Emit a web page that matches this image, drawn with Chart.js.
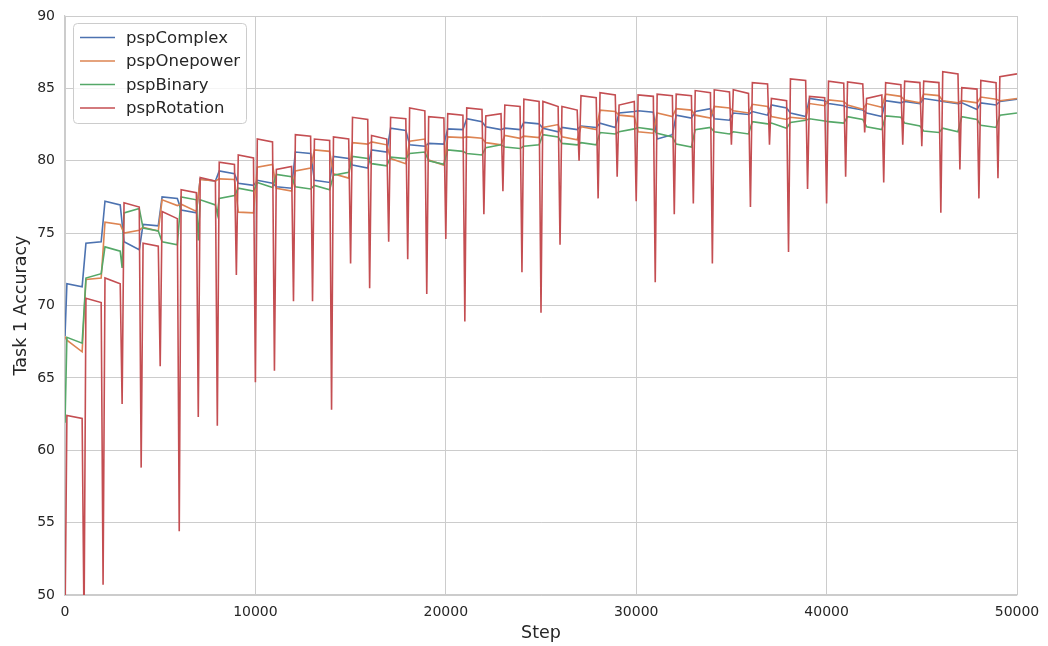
<!DOCTYPE html>
<html>
<head>
<meta charset="utf-8">
<script src="https://cdn.jsdelivr.net/npm/chart.js@4.4.1/dist/chart.umd.min.js"></script>
<style>
  html, body { margin: 0; padding: 0; background: #ffffff; }
  #wrap { width: 1048px; height: 646px; position: relative; }
</style>
</head>
<body>
<div id="wrap"><canvas id="chart"></canvas></div>
<script>
// Each task lasts 1000 steps; 50 tasks over 50000 steps.
const TASK_STEPS = 1000;
const TASK_COUNT = 50;

const seriesNames = ['pspComplex', 'pspOnepower', 'pspBinary', 'pspRotation'];
const seriesColors = ['#4c72b0', '#dd8452', '#55a868', '#c44e52'];

// Accuracy at the start and end of every task, plus the value logged right at a task switch.
const complexStart = [71.5, 74.3, 77.2, 74.4, 75.6, 77.5, 76.6, 78.75, 79.3, 78.45,
  78.65, 78.2, 80.6, 78.65, 80.3, 79.7, 80.75, 82.25, 81.1, 81.2,
  82.2, 82.9, 82.35, 82.25, 82.65, 82.25, 82.3, 82.4, 82.6, 83.3,
  83.45, 81.5, 83.15, 83.4, 82.9, 83.3, 83.4, 83.85, 83.3, 84.3,
  83.95, 83.7, 83.3, 84.15, 84.1, 84.3, 84.1, 84.0, 84.0, 84.1];
const complexEnd = [71.3, 74.4, 76.95, 73.85, 75.5, 77.4, 76.4, 78.6, 79.1, 78.3,
  78.45, 78.1, 80.5, 78.5, 80.15, 79.5, 80.6, 82.1, 81.0, 81.15,
  82.15, 82.7, 82.15, 82.15, 82.55, 82.0, 82.15, 82.3, 82.3, 83.4,
  83.35, 81.8, 82.95, 83.6, 82.8, 83.2, 83.15, 83.65, 83.05, 84.15,
  83.8, 83.5, 83.05, 84.0, 83.95, 84.15, 83.95, 83.55, 83.85, 84.25];
const complexSwitch = { 0: 67.9 };

const onepowerStart = [67.6, 71.8, 75.75, 75.0, 75.4, 77.3, 77.0, 78.7, 78.75, 76.45,
  79.55, 78.1, 79.3, 80.75, 79.1, 81.25, 81.3, 80.15, 81.35, 80.05,
  81.65, 81.65, 81.25, 81.75, 81.7, 82.3, 81.65, 82.35, 83.5, 83.15,
  82.0, 83.3, 83.6, 83.15, 83.75, 83.45, 83.9, 83.05, 83.0, 83.95,
  84.2, 83.85, 83.95, 84.6, 84.2, 84.6, 84.15, 84.15, 84.4, 84.15];
const onepowerEnd = [66.8, 71.9, 75.6, 75.2, 75.15, 76.9, 76.5, 78.6, 78.7, 76.4,
  79.75, 77.9, 79.5, 80.65, 78.8, 81.15, 81.1, 79.8, 81.5, 79.7,
  81.6, 81.55, 81.1, 81.55, 81.6, 82.5, 81.45, 82.15, 83.4, 83.05,
  81.9, 83.05, 83.5, 82.95, 83.65, 83.3, 83.75, 82.85, 82.9, 83.8,
  84.1, 83.55, 83.7, 84.45, 84.0, 84.5, 84.0, 84.0, 84.25, 84.3];
const onepowerSwitch = { 0: 67.85 };

const binaryStart = [67.8, 71.9, 74.05, 76.4, 75.35, 74.4, 77.5, 77.3, 77.4, 78.1,
  78.5, 79.05, 78.2, 78.3, 79.0, 80.3, 79.8, 80.25, 80.5, 80.0,
  80.75, 80.5, 80.9, 80.95, 81.0, 81.8, 81.2, 81.25, 81.95, 82.0,
  82.3, 81.9, 81.15, 82.15, 82.0, 82.0, 82.7, 82.6, 82.65, 82.9,
  82.7, 83.05, 82.35, 83.1, 82.6, 82.05, 82.25, 83.05, 82.45, 83.15];
const binaryEnd = [67.4, 72.2, 73.75, 76.7, 75.15, 74.2, 77.3, 76.95, 77.6, 77.9,
  78.15, 78.9, 78.05, 78.0, 79.2, 80.15, 79.65, 80.15, 80.6, 79.75,
  80.65, 80.4, 81.1, 80.85, 81.1, 81.65, 81.1, 81.1, 81.85, 82.2,
  82.15, 81.65, 80.95, 82.3, 81.85, 81.85, 82.55, 82.25, 82.8, 82.75,
  82.6, 82.85, 82.15, 83.0, 82.4, 81.95, 82.0, 82.85, 82.3, 83.3];
const binarySwitch = { 0: 61.9, 3: 72.6, 7: 74.5, 8: 76.3 };

const rotationStart = [62.4, 70.5, 71.9, 77.1, 74.3, 76.5, 78.0, 78.85, 79.9, 80.4,
  81.5, 79.4, 81.8, 81.5, 81.65, 83.0, 81.75, 83.0, 83.65, 83.05,
  83.25, 83.65, 83.1, 83.85, 84.25, 84.1, 83.75, 84.5, 84.7, 83.85,
  84.55, 84.6, 84.6, 84.85, 84.9, 84.9, 85.4, 84.3, 85.65, 84.45,
  85.5, 85.45, 84.3, 85.4, 85.5, 85.5, 86.15, 85.05, 85.55, 85.8];
const rotationEnd = [62.2, 70.2, 71.5, 76.8, 74.1, 76.0, 77.8, 78.6, 79.75, 80.2,
  81.3, 79.6, 81.7, 81.4, 81.5, 82.85, 81.5, 82.9, 83.45, 82.95,
  83.15, 83.55, 83.25, 83.75, 84.1, 83.75, 83.5, 84.35, 84.55, 84.1,
  84.45, 84.5, 84.5, 84.7, 84.75, 84.65, 85.3, 84.15, 85.55, 84.35,
  85.35, 85.3, 84.55, 85.25, 85.4, 85.4, 86.0, 84.95, 85.4, 86.0];
const rotationSwitch = [48, 48, 50.7, 63.2, 58.8, 65.8, 54.4, 62.3, 61.7, 72.1,
  64.7, 65.5, 70.3, 70.3, 62.8, 72.9, 71.2, 74.4, 73.2, 70.8,
  74.6, 68.9, 76.3, 77.9, 72.3, 69.5, 74.2, 80.0, 77.4, 78.9,
  77.2, 71.6, 76.3, 77.05, 72.9, 81.1, 76.8, 81.1, 73.7, 78.05,
  77.05, 78.9, 81.95, 78.5, 81.1, 81.0, 76.4, 79.4, 77.4, 78.8];

const yTicks = { min: 50, max: 90, step: 5 };
const xTicks = { min: 0, max: 50000, step: 10000 };

// Turn the per-task values into (step, accuracy) points.
function buildPoints(starts, ends, switches) {
  const pts = [];
  for (let k = 0; k < TASK_COUNT; k++) {
    const base = k * TASK_STEPS;
    if (switches[k] != null) pts.push({ x: base, y: switches[k] });
    pts.push({ x: base + 100, y: starts[k] });
    const endStep = (k === TASK_COUNT - 1) ? TASK_COUNT * TASK_STEPS : base + 900;
    pts.push({ x: endStep, y: ends[k] });
  }
  return pts;
}

const allSeries = [
  buildPoints(complexStart, complexEnd, complexSwitch),
  buildPoints(onepowerStart, onepowerEnd, onepowerSwitch),
  buildPoints(binaryStart, binaryEnd, binarySwitch),
  buildPoints(rotationStart, rotationEnd, rotationSwitch)
];

const TEXT = '#262626';
const GRID = '#cccccc';
const FONT = '"DejaVu Sans", "Liberation Sans", sans-serif';

// Framed legend in the upper-left corner of the plot area.
const framedLegend = {
  id: 'framedLegend',
  afterDatasetsDraw(chart) {
    const ctx = chart.ctx;
    const area = chart.chartArea;
    const x0 = area.left + 8, y0 = area.top + 7, w = 173, h = 100;
    ctx.save();
    ctx.beginPath();
    ctx.roundRect(x0 + 0.5, y0 + 0.5, w, h, 4);
    ctx.fillStyle = 'rgba(255,255,255,0.8)';
    ctx.fill();
    ctx.strokeStyle = GRID;
    ctx.lineWidth = 1;
    ctx.stroke();
    ctx.font = '16.5px ' + FONT;
    ctx.textBaseline = 'middle';
    ctx.textAlign = 'left';
    chart.data.datasets.forEach((ds, i) => {
      const y = y0 + 14.5 + i * 23.5;
      ctx.strokeStyle = ds.borderColor;
      ctx.lineWidth = 1.6;
      ctx.beginPath();
      ctx.moveTo(x0 + 7, y);
      ctx.lineTo(x0 + 42, y);
      ctx.stroke();
      ctx.fillStyle = TEXT;
      ctx.fillText(ds.label, x0 + 53, y + 1);
    });
    ctx.restore();
  }
};

new Chart(document.getElementById('chart'), {
  type: 'line',
  data: {
    datasets: seriesNames.map((name, i) => ({
      label: name,
      data: allSeries[i],
      borderColor: seriesColors[i],
      backgroundColor: seriesColors[i],
      borderWidth: 1.6,
      pointRadius: 0,
      tension: 0,
      fill: false,
      order: 4 - i
    }))
  },
  options: {
    responsive: true,
    maintainAspectRatio: false,
    devicePixelRatio: 1,
    animation: false,
    layout: { padding: { top: 16, right: 31, left: 0, bottom: 0 } },
    plugins: {
      legend: { display: false },
      tooltip: { enabled: false }
    },
    scales: {
      x: {
        type: 'linear',
        min: xTicks.min,
        max: xTicks.max,
        afterFit: s => { s.height = 51; s.paddingLeft = 0; s.paddingRight = 0; },
        ticks: {
          stepSize: xTicks.step,
          padding: 9,
          color: TEXT,
          font: { family: FONT, size: 14 },
          maxRotation: 0,
          callback: v => String(v)
        },
        grid: { color: GRID, lineWidth: 1, drawTicks: false },
        border: { color: GRID, width: 1.25 },
        title: {
          display: true,
          text: 'Step',
          color: TEXT,
          font: { family: FONT, size: 17.5 },
          padding: { top: 0, bottom: 2 }
        }
      },
      y: {
        min: yTicks.min,
        max: yTicks.max,
        afterFit: s => { s.width = 65; s.paddingTop = 0; s.paddingBottom = 0; },
        ticks: {
          stepSize: yTicks.step,
          padding: 10,
          color: TEXT,
          font: { family: FONT, size: 14 }
        },
        grid: { color: GRID, lineWidth: 1, drawTicks: false },
        border: { color: GRID, width: 1.25 },
        title: {
          display: true,
          text: 'Task 1 Accuracy',
          color: TEXT,
          font: { family: FONT, size: 17.5 },
          padding: { top: 11, bottom: 0 }
        }
      }
    }
  },
  plugins: [framedLegend]
});
</script>
</body>
</html>
